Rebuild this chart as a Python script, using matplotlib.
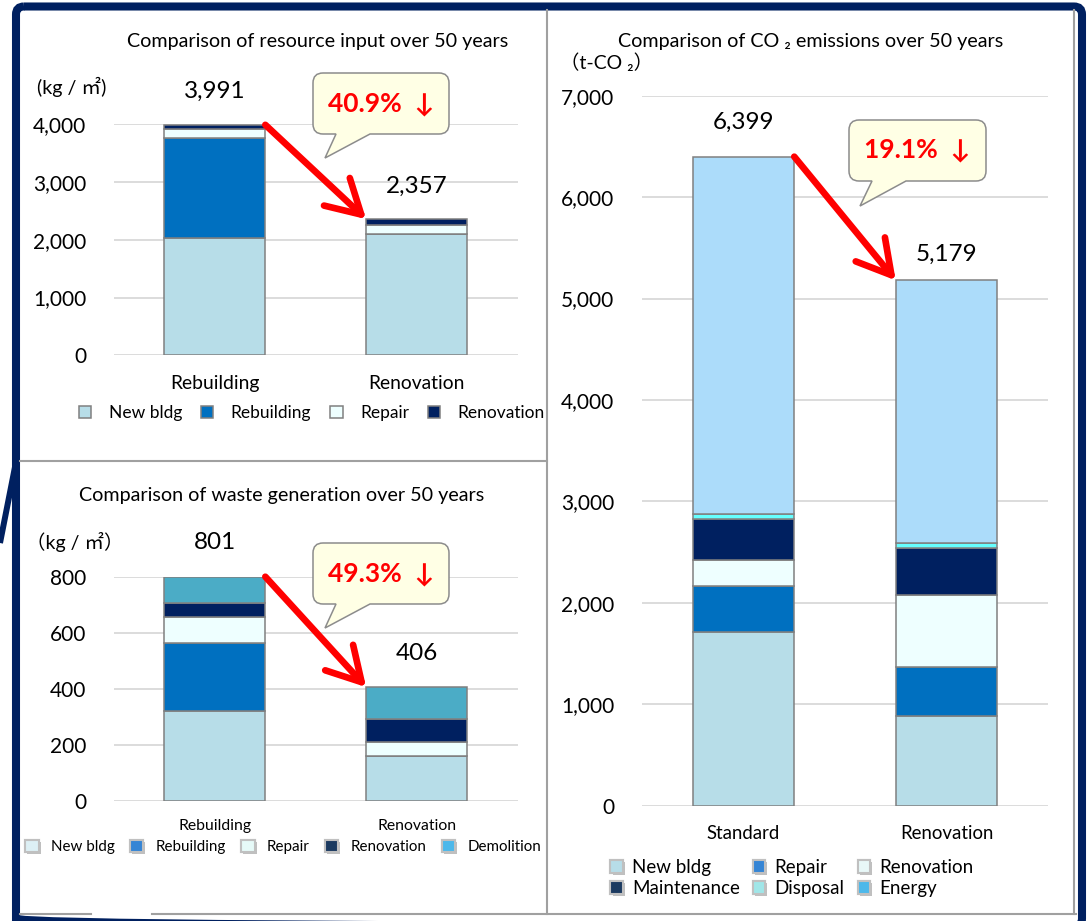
import numpy as np
import matplotlib.pyplot as plt
from matplotlib.patches import Patch, FancyBboxPatch, PathPatch
from matplotlib.path import Path
from matplotlib.ticker import FuncFormatter
import matplotlib.patheffects as pe

plt.rcParams['font.family'] = ['Lato', 'Noto Sans CJK JP', 'DejaVu Sans']

# -----------------------------
# Data
# -----------------------------
res_cats = ['Rebuilding', 'Renovation']
res_new = [2026, 2095]
res_rebuild = [1732, 0]
res_repair = [155, 156]
res_renov = [78, 106]

waste_cats = ['Rebuilding', 'Renovation']
waste_new = [322, 160]
waste_rebuild = [243, 0]
waste_repair = [92, 50]
waste_renov = [51, 83]
waste_demol = [93, 113]

co2_cats = ['Standard', 'Renovation']
co2_new = [1712, 888]
co2_repair = [457, 484]
co2_renov = [250, 708]
co2_maint = [411, 461]
co2_disposal = [50, 49]
co2_energy = [3519, 2589]

# -----------------------------
# Colours
# -----------------------------
NEW = '#B7DDE8'
BLUE = '#0070C0'
PALE = '#EEFFFF'
NAVY = '#002060'
DEMOL = '#4BACC6'
DISP = '#66FFFF'
ENERGY = '#ACDCFA'
EDGE = '#808080'

W, H = 1088, 921
fig = plt.figure(figsize=(W / 100, H / 100), dpi=100)


def frac(l, t, r, b):
    return [l / W, 1 - b / H, (r - l) / W, (b - t) / H]


def setup(ax, ymax, step, cats, xfs, xpad):
    ax.set_facecolor('none')
    ax.set_xlim(-0.5, 1.5)
    ax.set_ylim(0, ymax)
    ax.set_yticks(np.arange(0, ymax + 1, step))
    ax.yaxis.set_major_formatter(FuncFormatter(lambda v, p: f'{int(v):,}'))
    ax.grid(axis='y', color='#D9D9D9', lw=1.3)
    ax.set_axisbelow(True)
    for s in ax.spines.values():
        s.set_visible(False)
    ax.tick_params(axis='y', length=0, pad=20, labelsize=15)
    ax.set_xticks(range(len(cats)), cats)
    ax.tick_params(axis='x', length=0, pad=xpad, labelsize=xfs)


def draw_stack(ax, series, colors, offsets):
    x = np.arange(len(series[0]))
    bottom = np.zeros(len(x))
    bars = []
    for vals, c in zip(series, colors):
        b = ax.bar(x, vals, 0.5, bottom=bottom, color=c, edgecolor=EDGE, lw=1.1, zorder=3)
        bars.append(b)
        bottom = bottom + np.array(vals)
    for i, t in enumerate(bottom):
        ax.annotate(f'{int(t):,}', (i, t), xytext=(0, offsets[i]), textcoords='offset points',
                    ha='center', va='center', fontsize=17.5)
    ax.annotate('', xy=(0.75, bottom[1]), xytext=(0.25, bottom[0]),
                arrowprops=dict(arrowstyle='->,head_length=1.2,head_width=0.68', color='red',
                                lw=4.8, mutation_scale=20, shrinkA=0, shrinkB=0),
                annotation_clip=False, zorder=6)
    return bars, bottom


# -----------------------------
# Resource input
# -----------------------------
ax1 = fig.add_axes(frac(114, 124.3, 517.5, 355.3))
setup(ax1, 4000, 1000, res_cats, 13.9, 14)
bars1, tot1 = draw_stack(ax1, [res_new, res_rebuild, res_repair, res_renov],
                         [NEW, BLUE, PALE, NAVY], [24, 24])
ax1.legend([b[0] for b in bars1], ['New bldg', 'Rebuilding', 'Repair', 'Renovation'],
           loc='center', bbox_to_anchor=(312 / W, 1 - 413 / H), bbox_transform=fig.transFigure,
           ncol=4, frameon=False, fontsize=12.5, handlelength=0.7, handleheight=0.7,
           handletextpad=1.0, columnspacing=1.1)

# -----------------------------
# Waste generation
# -----------------------------
ax2 = fig.add_axes(frac(114, 577, 517.5, 800.7))
setup(ax2, 800, 200, waste_cats, 11.3, 13)
bars2, tot2 = draw_stack(ax2, [waste_new, waste_rebuild, waste_repair, waste_renov, waste_demol],
                         [NEW, BLUE, PALE, NAVY, DEMOL], [24.5, 24.5])
h2 = [Patch(facecolor=c, edgecolor='#C0C0C0', lw=1.5)
      for c in ['#DDF0F5', '#3585D5', '#E6FAF8', '#1B3A60', '#4DB8EA']]
leg2 = ax2.legend(h2, ['New bldg', 'Rebuilding', 'Repair', 'Renovation', 'Demolition'],
                  loc='center', bbox_to_anchor=(283 / W, 1 - 847 / H), bbox_transform=fig.transFigure,
                  ncol=5, frameon=False, fontsize=10.9, handlelength=0.9, handleheight=0.9,
                  handletextpad=0.8, columnspacing=1.0)

# -----------------------------
# CO2 emissions
# -----------------------------
ax3 = fig.add_axes(frac(642, 95.7, 1048, 805.7))
setup(ax3, 7000, 1000, co2_cats, 13.4, 14)
bars3, tot3 = draw_stack(ax3, [co2_new, co2_repair, co2_renov, co2_maint, co2_disposal, co2_energy],
                         [NEW, BLUE, PALE, NAVY, DISP, ENERGY], [24.5, 19])
h3 = [Patch(facecolor=c, edgecolor='#C0C0C0', lw=1.5)
      for c in ['#B7DDE8', '#1B3A60', '#3585D5', '#A0E6E8', '#E8F8F8', '#4DB8EA']]
leg3 = ax3.legend(h3, ['New bldg', 'Maintenance', 'Repair', 'Disposal', 'Renovation', 'Energy'],
                  loc='center', bbox_to_anchor=(792 / W, 1 - 878 / H), bbox_transform=fig.transFigure,
                  ncol=3, frameon=False, fontsize=13.5, handlelength=0.65, handleheight=0.65,
                  handletextpad=0.5, columnspacing=0.7, labelspacing=0.2)

for leg in (leg2, leg3):
    for p in leg.legend_handles:
        p.set_path_effects([pe.withSimplePatchShadow(offset=(1.5, -1.5), shadow_rgbFace='gray', alpha=0.5),
                            pe.Normal()])

# -----------------------------
# Overlay: frame, titles, callouts
# -----------------------------
ov = fig.add_axes([0, 0, 1, 1], zorder=10)
ov.set_xlim(0, W)
ov.set_ylim(H, 0)
ov.axis('off')
ov.patch.set_visible(False)

ov.add_patch(FancyBboxPatch((16, 6.5), 1066, 920, boxstyle='round,pad=0,rounding_size=8',
                            fill=False, ec=NAVY, lw=5.8))
ov.plot([0, 16], [543, 462], color=NAVY, lw=4.3, solid_capstyle='butt')
gray = '#A0A0A0'
ov.plot([1074, 1074], [10, 914], color=gray, lw=1.5)
ov.plot([547, 547], [10, 914], color=gray, lw=1.5)
ov.plot([20, 547], [461, 461], color=gray, lw=1.5)
ov.plot([20, 91], [914, 914], color=gray, lw=1.5)
ov.plot([152, 1076], [914, 914], color=gray, lw=1.5)

ov.text(318, 42, 'Comparison of resource input over 50 years', ha='center', va='center', fontsize=14.2)
ov.text(282, 495, 'Comparison of waste generation over 50 years', ha='center', va='center', fontsize=14.2)
ov.text(811, 42, 'Comparison of CO ₂ emissions over 50 years', ha='center', va='center', fontsize=14.2)
ov.text(37, 87, '(kg / ㎡)', ha='left', va='center', fontsize=14.2)
ov.text(26, 542, '（kg / ㎡）', ha='left', va='center', fontsize=14)
ov.text(560, 63, '（t-CO ₂）', ha='left', va='center', fontsize=14)


def callout(x0, y0, x1, y1, ta, tb, tip, text):
    r = 10
    verts = [(x0 + r, y0), (x1 - r, y0), (x1, y0), (x1, y0 + r), (x1, y1 - r), (x1, y1), (x1 - r, y1),
             (tb, y1), tip, (ta, y1), (x0 + r, y1), (x0, y1), (x0, y1 - r), (x0, y0 + r), (x0, y0),
             (x0 + r, y0), (x0 + r, y0)]
    codes = [Path.MOVETO, Path.LINETO, Path.CURVE3, Path.CURVE3, Path.LINETO, Path.CURVE3, Path.CURVE3,
             Path.LINETO, Path.LINETO, Path.LINETO, Path.LINETO, Path.CURVE3, Path.CURVE3, Path.LINETO,
             Path.CURVE3, Path.CURVE3, Path.CLOSEPOLY]
    ov.add_patch(PathPatch(Path(verts, codes), fc='#FFFFE5', ec='#8C8C8C', lw=1.1))
    ov.text((x0 + x1) / 2, (y0 + y1) / 2, text, color='red', fontsize=19, fontweight='bold',
            ha='center', va='center')


def pct(t):
    return f'{(1 - t[1] / t[0]) * 100:.1f}%  ↓'


callout(313, 73, 449, 134, 336, 370, (325, 158), pct(tot1))
callout(313, 543, 449, 604, 336, 370, (325, 628), pct(tot2))
callout(849, 120, 986, 181, 872, 906, (860, 206), pct(tot3))

plt.savefig('out.png', dpi=100)
